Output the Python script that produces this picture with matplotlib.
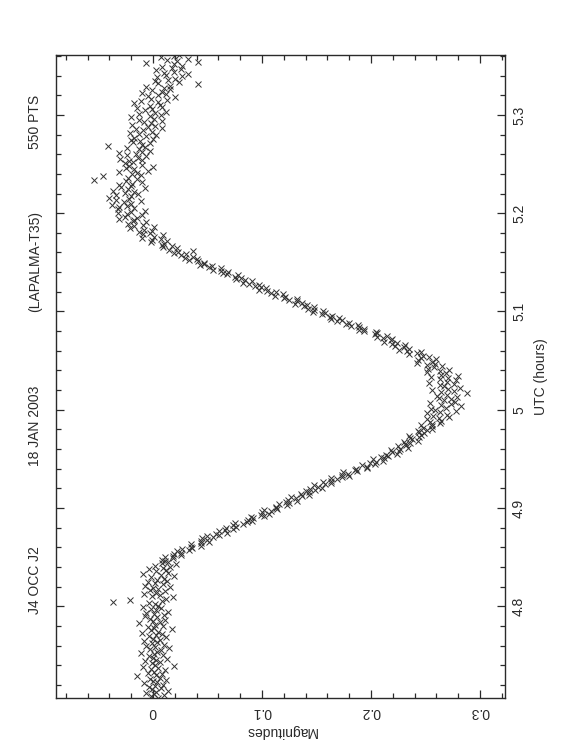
import numpy as np
import matplotlib
matplotlib.use("Agg")
import matplotlib.pyplot as plt
from matplotlib.ticker import MultipleLocator, FuncFormatter

plt.rcParams['font.family'] = ['Liberation Sans', 'DejaVu Sans']

# UTC (hours) and magnitudes (in millimag), by segment
t_base = [4.7070, 4.7082, 4.7094, 4.7106, 4.7118, 4.7130, 4.7142, 4.7154, 4.7166, 4.7178,
          4.7190, 4.7202, 4.7214, 4.7226, 4.7238, 4.7250, 4.7262, 4.7274, 4.7286, 4.7298,
          4.7310, 4.7322, 4.7334, 4.7346, 4.7358, 4.7370, 4.7382, 4.7394, 4.7406, 4.7418,
          4.7430, 4.7442, 4.7454, 4.7466, 4.7478, 4.7490, 4.7502, 4.7514, 4.7526, 4.7538,
          4.7550, 4.7562, 4.7574, 4.7586, 4.7598, 4.7610, 4.7622, 4.7634, 4.7646, 4.7658,
          4.7670, 4.7682, 4.7694, 4.7706, 4.7718, 4.7730, 4.7742, 4.7754, 4.7766, 4.7778,
          4.7790, 4.7802, 4.7814, 4.7826, 4.7838, 4.7850, 4.7862, 4.7874, 4.7886, 4.7898,
          4.7910, 4.7922, 4.7934, 4.7946, 4.7958, 4.7970, 4.7982, 4.7994, 4.8006, 4.8018,
          4.8030, 4.8042, 4.8054, 4.8066, 4.8078, 4.8090, 4.8102, 4.8114, 4.8126, 4.8138,
          4.8150, 4.8162, 4.8174, 4.8186, 4.8198, 4.8210, 4.8222, 4.8234, 4.8246, 4.8258,
          4.8270, 4.8282, 4.8294, 4.8306, 4.8318, 4.8330, 4.8342, 4.8354, 4.8366, 4.8378,
          4.8390, 4.8402, 4.8414, 4.8426, 4.8438, 4.8450]
m_base = [5, -2, 10, 1, -6, 3, 14, -1, 7, -4,
          2, 9, -8, 4, 0, 12, -3, 6, -15, 3,
          8, -5, 1, 11, -2, 5, -9, 19, 2, -1,
          6, -7, 3, 13, 0, -4, 9, 1, -11, 4,
          7, -3, 15, 2, -6, 10, -1, 4, -8, 6,
          0, 12, -4, 3, 8, -10, 5, -2, 17, 1,
          -5, 9, 2, -13, 6, 0, 11, -3, 4, -7,
          10, 1, -6, 14, 3, -2, 7, -9, 5, 2,
          -4, -37, 8, -21, 12, 18, -1, 6, -8, 3,
          11, -3, 5, 0, 16, -7, 9, 2, -5, 13,
          4, 10, -2, 19, 7, -9, 14, 3, 12, -4,
          9, 16, 2, 21, 8, 14]

t_ingress = [4.8462, 4.8474, 4.8486, 4.8498, 4.8510, 4.8522, 4.8534, 4.8546, 4.8558, 4.8570,
             4.8582, 4.8594, 4.8606, 4.8618, 4.8630, 4.8642, 4.8654, 4.8666, 4.8678, 4.8690,
             4.8702, 4.8714, 4.8726, 4.8738, 4.8750, 4.8762, 4.8774, 4.8786, 4.8798, 4.8810,
             4.8822, 4.8834, 4.8846, 4.8858, 4.8870, 4.8882, 4.8894, 4.8906, 4.8918, 4.8930,
             4.8942, 4.8954, 4.8966, 4.8978, 4.8990, 4.9002, 4.9014, 4.9026, 4.9038, 4.9050,
             4.9062, 4.9074, 4.9086, 4.9098, 4.9110, 4.9122, 4.9134, 4.9146, 4.9158, 4.9170,
             4.9182, 4.9194, 4.9206, 4.9218, 4.9230, 4.9242, 4.9254, 4.9266, 4.9278, 4.9290,
             4.9302, 4.9314, 4.9326, 4.9338, 4.9350, 4.9362, 4.9374, 4.9386, 4.9398, 4.9410,
             4.9422, 4.9434, 4.9446, 4.9458, 4.9470, 4.9482, 4.9494, 4.9506, 4.9518, 4.9530,
             4.9542, 4.9554, 4.9566, 4.9578, 4.9590, 4.9602, 4.9614, 4.9626, 4.9638, 4.9650,
             4.9662, 4.9674, 4.9686, 4.9698, 4.9710, 4.9722, 4.9734, 4.9746, 4.9758, 4.9770,
             4.9782, 4.9794, 4.9806, 4.9818, 4.9830, 4.9842, 4.9854, 4.9866, 4.9878]
m_ingress = [11, 8, 18, 11, 18, 26, 19, 26, 22, 33,
             27, 36, 35, 44, 35, 44, 51, 44, 50, 45,
             55, 50, 61, 58, 68, 61, 66, 73, 67, 76,
             73, 83, 75, 86, 91, 87, 92, 90, 102, 99,
             106, 100, 108, 102, 114, 113, 113, 123, 116, 125,
             122, 132, 124, 131, 127, 137, 143, 136, 143, 140,
             149, 144, 155, 151, 148, 158, 163, 156, 163, 169,
             163, 173, 180, 173, 179, 174, 187, 185, 186, 196,
             196, 192, 204, 199, 205, 211, 202, 212, 209, 216,
             214, 224, 219, 226, 218, 227, 234, 225, 232, 231,
             236, 230, 243, 238, 236, 244, 235, 246, 249, 244,
             243, 251, 256, 248, 256, 246, 256, 263, 254]

t_bottom = [4.9890, 4.9902, 4.9914, 4.9926, 4.9938, 4.9950, 4.9962, 4.9974, 4.9986, 4.9998,
            5.0010, 5.0022, 5.0034, 5.0046, 5.0058, 5.0070, 5.0082, 5.0094, 5.0106, 5.0118,
            5.0130, 5.0142, 5.0154, 5.0166, 5.0178, 5.0190, 5.0202, 5.0214, 5.0226, 5.0238,
            5.0250, 5.0262, 5.0274, 5.0286, 5.0298, 5.0310, 5.0322, 5.0334, 5.0346, 5.0358,
            5.0370, 5.0382, 5.0394, 5.0406, 5.0418, 5.0430, 5.0442, 5.0454, 5.0466, 5.0478,
            5.0490, 5.0502, 5.0514, 5.0526, 5.0538]
m_bottom = [264, 251, 262, 272, 257, 270, 251, 263, 278, 259,
            255, 269, 283, 264, 273, 254, 277, 267, 273, 262,
            279, 261, 270, 288, 264, 276, 256, 271, 282, 267,
            263, 276, 253, 270, 278, 263, 271, 255, 280, 264,
            269, 251, 263, 272, 252, 258, 265, 251, 259, 242,
            256, 243, 260, 246, 253]

t_egress = [5.0550, 5.0562, 5.0574, 5.0586, 5.0598, 5.0610, 5.0622, 5.0634, 5.0646, 5.0658,
            5.0670, 5.0682, 5.0694, 5.0706, 5.0718, 5.0730, 5.0742, 5.0754, 5.0766, 5.0778,
            5.0790, 5.0802, 5.0814, 5.0826, 5.0838, 5.0850, 5.0862, 5.0874, 5.0886, 5.0898,
            5.0910, 5.0922, 5.0934, 5.0946, 5.0958, 5.0970, 5.0982, 5.0994, 5.1006, 5.1018,
            5.1030, 5.1042, 5.1054, 5.1066, 5.1078, 5.1090, 5.1102, 5.1114, 5.1126, 5.1138,
            5.1150, 5.1162, 5.1174, 5.1186, 5.1198, 5.1210, 5.1222, 5.1234, 5.1246, 5.1258,
            5.1270, 5.1282, 5.1294, 5.1306, 5.1318, 5.1330, 5.1342, 5.1354, 5.1366, 5.1378,
            5.1390, 5.1402, 5.1414, 5.1426, 5.1438, 5.1450, 5.1462, 5.1474, 5.1486, 5.1498,
            5.1510, 5.1522, 5.1534, 5.1546, 5.1558, 5.1570, 5.1582, 5.1594, 5.1606, 5.1618,
            5.1630, 5.1642, 5.1654, 5.1666, 5.1678]
m_egress = [248, 235, 242, 246, 233, 226, 235, 230, 222, 231,
            219, 224, 212, 218, 219, 211, 206, 215, 204, 206,
            205, 194, 189, 194, 189, 182, 188, 177, 180, 169,
            173, 163, 171, 162, 164, 155, 158, 147, 156, 148,
            142, 148, 139, 141, 130, 137, 132, 125, 132, 120,
            121, 112, 119, 108, 113, 105, 97, 104, 99, 94,
            97, 88, 83, 91, 84, 76, 81, 75, 78, 68,
            64, 69, 62, 55, 62, 51, 54, 43, 47, 47,
            41, 33, 40, 29, 37, 26, 30, 19, 23, 37,
            15, 22, 9, 17, 8]

t_after = [5.1690, 5.1702, 5.1714, 5.1726, 5.1738, 5.1750, 5.1762, 5.1774, 5.1786, 5.1798,
           5.1810, 5.1822, 5.1834, 5.1846, 5.1858, 5.1870, 5.1882, 5.1894, 5.1906, 5.1918,
           5.1930, 5.1942, 5.1954, 5.1966, 5.1978, 5.1990, 5.2002, 5.2014, 5.2026, 5.2038,
           5.2050, 5.2062, 5.2074, 5.2086, 5.2098, 5.2110, 5.2122, 5.2134, 5.2146, 5.2158,
           5.2170, 5.2182, 5.2194, 5.2206, 5.2218, 5.2230, 5.2242, 5.2254, 5.2266, 5.2278,
           5.2290, 5.2302, 5.2314, 5.2326, 5.2338, 5.2350, 5.2362, 5.2374, 5.2386, 5.2398,
           5.2410, 5.2422, 5.2434, 5.2446, 5.2458, 5.2470, 5.2482, 5.2494, 5.2506, 5.2518,
           5.2530, 5.2542, 5.2554, 5.2566, 5.2578, 5.2590, 5.2602, 5.2614, 5.2626, 5.2638,
           5.2650, 5.2662, 5.2674, 5.2686, 5.2698, 5.2710, 5.2722, 5.2734, 5.2746, 5.2758,
           5.2770, 5.2782, 5.2794, 5.2806, 5.2818, 5.2830, 5.2842, 5.2854, 5.2866, 5.2878,
           5.2890, 5.2902, 5.2914, 5.2926, 5.2938, 5.2950, 5.2962, 5.2974, 5.2986, 5.2998,
           5.3010, 5.3022, 5.3034, 5.3046, 5.3058, 5.3070, 5.3082, 5.3094, 5.3106, 5.3118,
           5.3130, 5.3142, 5.3154, 5.3166, 5.3178, 5.3190, 5.3202, 5.3214, 5.3226, 5.3238,
           5.3250, 5.3262, 5.3274, 5.3286, 5.3298, 5.3310, 5.3322, 5.3334, 5.3346, 5.3358,
           5.3370, 5.3382, 5.3394, 5.3406, 5.3418, 5.3430, 5.3442, 5.3454, 5.3466, 5.3478,
           5.3490, 5.3502, 5.3514, 5.3526, 5.3538, 5.3550, 5.3562, 5.3574, 5.3586, 5.3598,
           5.3610]
m_after = [10, -2, 13, -1, 7, -10, 1, 9, -9, -3,
           -13, -1, -8, -21, 1, -17, -9, -23, -6, -18,
           -17, -31, -15, -26, -10, -24, -32, -20, -7, -32,
           -17, -31, -24, -38, -20, -27, -11, -34, -22, -40,
           -20, -34, -14, -26, -17, -37, -23, -7, -29, -20,
           -31, -19, -10, -25, -54, -15, -23, -46, -11, -19,
           -15, -31, -5, -17, -25, 0, -22, -10, -26, -18,
           -22, -10, -30, -14, -6, -24, -16, -31, -10, -3,
           -13, -24, -7, -41, -10, -3, -18, -12, -20, 0,
           -17, -6, 3, -13, -21, -1, -9, -16, 8, -5,
           2, -19, -2, -8, 8, -13, 1, -20, -3, 7,
           -13, 2, 12, -7, -1, -15, 8, -3, 6, -17,
           5, -11, 13, -2, 20, -5, 5, 12, -10, 8,
           -1, 16, 10, -6, 16, 41, 5, 24, 2, 14,
           20, 4, 27, 12, 32, 10, 19, 3, 26, 17,
           8, 27, 19, -6, 41, 22, 13, 32, 7, 19,
           24]

title_parts = ['J4 OCC J2', '18 JAN 2003', '(LAPALMA-T35)', '550 PTS']

utc = np.concatenate([t_base, t_ingress, t_bottom, t_egress, t_after])
mag = np.concatenate([m_base, m_ingress, m_bottom, m_egress, m_after]) / 1000.0

ink = '#2a2a2a'

fig = plt.figure(figsize=(5.62, 7.56), dpi=100)
ax = fig.add_axes([56 / 562, 1 - 698 / 756, 449 / 562, 643 / 756])

# the plot is drawn turned on its side: magnitudes across, time up the page
ax.plot(mag, utc, linestyle='none', marker='x', ms=3.8, mew=0.7, color='#333333')

ax.set_xlim(-0.089, 0.323)
ax.set_ylim(4.7066, 5.361)
ax.xaxis.set_major_locator(MultipleLocator(0.1))
ax.xaxis.set_minor_locator(MultipleLocator(0.02))
ax.yaxis.set_major_locator(MultipleLocator(0.1))
ax.yaxis.set_minor_locator(MultipleLocator(0.02))
fmt = FuncFormatter(lambda v, p: '%g' % round(v, 3))
ax.xaxis.set_major_formatter(fmt)
ax.yaxis.set_major_formatter(fmt)

ax.tick_params(which='both', direction='in', top=True, bottom=True, left=True, right=True,
               labelleft=False, labeltop=False, labelright=True, labelbottom=True,
               width=0.9, colors=ink, labelsize=10)
ax.tick_params(which='major', length=6)
ax.tick_params(which='minor', length=3.5)
ax.tick_params(axis='x', labelrotation=180, pad=5)
ax.tick_params(axis='y', labelrotation=90, pad=5)
for lab in ax.get_yticklabels():
    lab.set_va('center')
for s in ax.spines.values():
    s.set_linewidth(1.0)
    s.set_color(ink)

ax.set_xlabel('Magnitudes', rotation=180, fontsize=10, color=ink, labelpad=4)
ax.yaxis.set_label_position('right')
ax.set_ylabel('UTC (hours)', rotation=90, fontsize=10, color=ink, labelpad=6)

title_y = [580, 426, 262, 122]
for txt, yp in zip(title_parts, title_y):
    fig.text(35 / 562, 1 - yp / 756, txt, rotation=90, ha='center', va='center',
             fontsize=10, color=ink)

fig.savefig('out.png', dpi=100)
